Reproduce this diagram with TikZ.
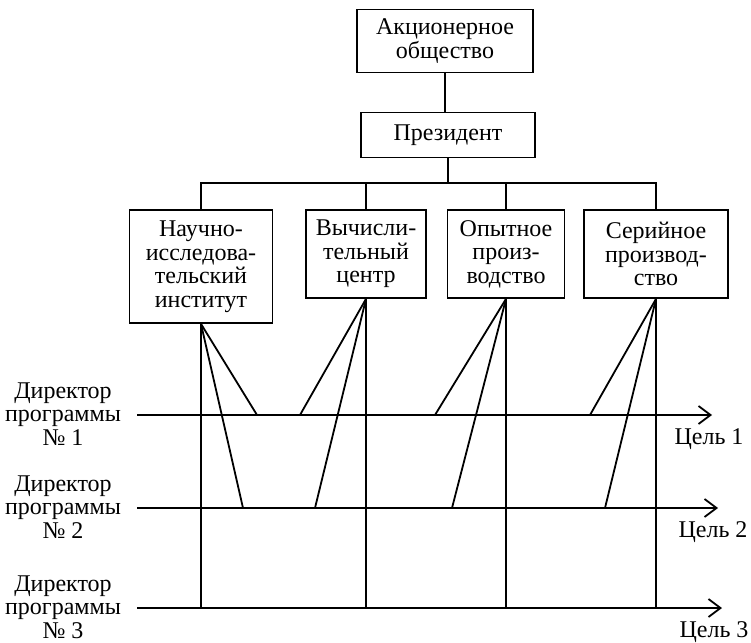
\documentclass[tikz,border=0pt]{standalone}
\usepackage{fontspec}
\setmainfont{Liberation Serif}
\usetikzlibrary{positioning}
\usetikzlibrary{arrows.meta}

\tikzset{
  every node/.style={font={\fontsize{24pt}{23.5pt}\selectfont}, align=center, inner sep=1pt},
  unit/.style={draw, line width=1.8pt},
  goalline/.style={-{Straight Barb[length=12pt,width=18pt]}},
}

\begin{document}
\begin{tikzpicture}[x=1pt,y=-1pt,line width=1.8pt]
\useasboundingbox (0,0) rectangle (751,642);

\node[unit, minimum width=176pt, minimum height=63pt] (ao) at (445,41) {Акционерное\\общество};
\node[unit, minimum width=174pt, minimum height=45pt] (pres) at (448,135) {Президент};
\node[unit, minimum width=143pt, minimum height=113pt] (nii) at (201,266.5) {Научно-\\исследова-\\тельский\\институт};
\node[unit, minimum width=120pt, minimum height=88pt] (vc) at (366,254) {Вычисли-\\тельный\\центр};
\node[unit, minimum width=117pt, minimum height=88pt] (op) at (506,254) {Опытное\\произ-\\водство};
\node[unit, minimum width=144pt, minimum height=88pt] (sp) at (656,254) {Серийное\\производ-\\ство};

% hierarchy
\coordinate (bus) at (448,183);
\draw (ao.south) -- (ao.south |- pres.north);
\draw (pres.south) -- (bus);
\draw (nii.north) -- (nii.north |- bus) -- (sp.north |- bus) -- (sp.north);
\draw (vc.north) -- (vc.north |- bus);
\draw (op.north) -- (op.north |- bus);

% programmes
\foreach \i/\y/\e/\dx in {1/415/712/-3, 2/508/718/-5, 3/608/722/-8} {
  \coordinate (s\i) at (137,\y);
  \coordinate (e\i) at (\e,\y);
  \draw[goalline] (s\i) -- (e\i);
  \node (dir\i) at (63,\y) [yshift=1pt] {Директор\\программы\\№ \i};
  \node (g\i) at (e\i) [xshift=\dx pt, yshift=-24pt] {Цель \i};
}

% links of units to programmes
\foreach \b/\p/\q in {nii/257/243, vc/300/315, op/435/452, sp/590/605} {
  \coordinate (\b-1) at (\p,415);
  \coordinate (\b-2) at (\q,508);
  \draw (\b.south) -- (\b-1);
  \draw (\b.south) -- (\b-2);
  \draw (\b.south) -- (\b.south |- s3);
}
\end{tikzpicture}
\end{document}
